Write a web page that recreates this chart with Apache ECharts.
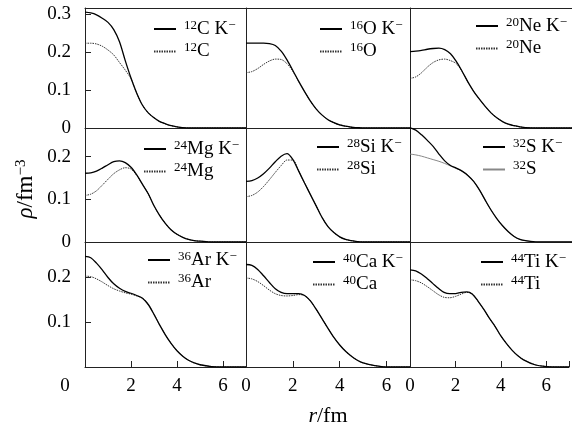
<!DOCTYPE html>
<html>
<head>
<meta charset="utf-8">
<script src="https://cdn.jsdelivr.net/npm/echarts@6/dist/echarts.min.js"></script>
<style>
html, body { margin: 0; padding: 0; background: #fff; }
#main { width: 572px; height: 428px; }
</style>
</head>
<body>
<div id="main"></div>
<script>
// r (fm) sampling points
const rValues = [0, 0.25, 0.5, 0.75, 1, 1.25, 1.5, 1.75, 2, 2.25, 2.5, 2.75, 3, 3.25, 3.5, 3.75, 4, 4.25, 4.5, 4.75, 5, 5.5, 6, 6.5, 7];

const nuclei = ['12C', '16O', '20Ne', '24Mg', '28Si', '32S', '36Ar', '40Ca', '44Ti'];

// density with K- (solid) and without (dotted), rho in fm^-3
const c12K = [0.306, 0.304, 0.299, 0.290, 0.279, 0.260, 0.228, 0.178, 0.132, 0.092, 0.060, 0.040, 0.027, 0.017, 0.011, 0.006, 0.003, 0.001, 0, 0, 0, 0, 0, 0, 0];
const c12 = [0.224, 0.224, 0.222, 0.216, 0.206, 0.193, 0.173, 0.153, 0.130, 0.092, 0.060, 0.040, 0.027, 0.017, 0.011, 0.006, 0.003, 0.001, 0, 0, 0, 0, 0, 0, 0];
const o16K = [0.224, 0.224, 0.224, 0.224, 0.223, 0.218, 0.203, 0.180, 0.152, 0.123, 0.096, 0.071, 0.050, 0.034, 0.022, 0.014, 0.008, 0.005, 0.002, 0.001, 0, 0, 0, 0, 0];
const o16 = [0.146, 0.149, 0.157, 0.168, 0.177, 0.182, 0.181, 0.170, 0.150, 0.123, 0.096, 0.071, 0.050, 0.034, 0.022, 0.014, 0.008, 0.005, 0.002, 0.001, 0, 0, 0, 0, 0];
const ne20K = [0.202, 0.203, 0.205, 0.208, 0.210, 0.211, 0.207, 0.196, 0.176, 0.150, 0.122, 0.097, 0.076, 0.057, 0.040, 0.027, 0.017, 0.010, 0.006, 0.003, 0.001, 0, 0, 0, 0];
const ne20 = [0.131, 0.135, 0.146, 0.161, 0.173, 0.180, 0.182, 0.178, 0.170, 0.150, 0.122, 0.097, 0.076, 0.057, 0.040, 0.027, 0.017, 0.010, 0.006, 0.003, 0.001, 0, 0, 0, 0];
const mg24K = [0.161, 0.162, 0.166, 0.173, 0.181, 0.188, 0.190, 0.186, 0.175, 0.157, 0.135, 0.113, 0.085, 0.062, 0.043, 0.028, 0.018, 0.011, 0.006, 0.003, 0.002, 0, 0, 0, 0];
const mg24 = [0.109, 0.112, 0.120, 0.133, 0.147, 0.160, 0.169, 0.174, 0.171, 0.156, 0.135, 0.113, 0.085, 0.062, 0.043, 0.028, 0.018, 0.011, 0.006, 0.003, 0.002, 0, 0, 0, 0];
const si28K = [0.142, 0.144, 0.150, 0.160, 0.173, 0.188, 0.201, 0.207, 0.193, 0.166, 0.138, 0.111, 0.084, 0.057, 0.036, 0.022, 0.012, 0.006, 0.003, 0.001, 0, 0, 0, 0, 0];
const si28 = [0.106, 0.109, 0.117, 0.130, 0.146, 0.163, 0.179, 0.192, 0.192, 0.166, 0.138, 0.111, 0.084, 0.057, 0.036, 0.022, 0.012, 0.006, 0.003, 0.001, 0, 0, 0, 0, 0];
const s32K = [0.268, 0.262, 0.251, 0.238, 0.224, 0.206, 0.190, 0.179, 0.173, 0.166, 0.156, 0.142, 0.122, 0.098, 0.075, 0.055, 0.038, 0.024, 0.013, 0.006, 0.003, 0, 0, 0, 0];
const s32 = [0.206, 0.204, 0.201, 0.197, 0.193, 0.189, 0.184, 0.178, 0.172, 0.166, 0.156, 0.142, 0.122, 0.098, 0.075, 0.055, 0.038, 0.024, 0.013, 0.006, 0.003, 0, 0, 0, 0];
const ar36K = [0.246, 0.243, 0.231, 0.216, 0.199, 0.185, 0.175, 0.168, 0.164, 0.159, 0.153, 0.139, 0.117, 0.093, 0.071, 0.052, 0.036, 0.024, 0.015, 0.009, 0.005, 0.001, 0, 0, 0];
const ar36 = [0.202, 0.201, 0.196, 0.189, 0.181, 0.174, 0.169, 0.165, 0.162, 0.158, 0.153, 0.139, 0.117, 0.093, 0.071, 0.052, 0.036, 0.024, 0.015, 0.009, 0.005, 0.001, 0, 0, 0];
const ca40K = [0.228, 0.226, 0.217, 0.203, 0.188, 0.174, 0.166, 0.163, 0.163, 0.163, 0.159, 0.147, 0.128, 0.107, 0.086, 0.066, 0.049, 0.035, 0.024, 0.015, 0.009, 0.003, 0, 0, 0];
const ca40 = [0.198, 0.196, 0.190, 0.181, 0.171, 0.163, 0.159, 0.158, 0.159, 0.161, 0.159, 0.147, 0.128, 0.107, 0.086, 0.066, 0.049, 0.035, 0.024, 0.015, 0.009, 0.003, 0, 0, 0];
const ti44K = [0.216, 0.214, 0.207, 0.197, 0.186, 0.175, 0.166, 0.163, 0.163, 0.166, 0.167, 0.162, 0.146, 0.128, 0.108, 0.090, 0.069, 0.052, 0.037, 0.025, 0.016, 0.005, 0.001, 0, 0];
const ti44 = [0.194, 0.192, 0.187, 0.179, 0.170, 0.161, 0.155, 0.154, 0.157, 0.162, 0.166, 0.162, 0.146, 0.128, 0.108, 0.090, 0.069, 0.052, 0.037, 0.025, 0.016, 0.005, 0.001, 0, 0];

const withK = [c12K, o16K, ne20K, mg24K, si28K, s32K, ar36K, ca40K, ti44K];
const withoutK = [c12, o16, ne20, mg24, si28, s32, ar36, ca40, ti44];

const xTicks = [0, 2, 4, 6];
const yMaxByRow = [0.317, 0.267, 0.278];

// layout
const FONT = 'Liberation Serif';
const cols = [[85, 161], [246, 164], [410, 162]];
const rows = [[8, 120], [128, 114], [242, 125]];
const legendPos = [[153, 19], [319, 19], [475, 16], [143, 139], [316, 137], [482, 137], [147, 250], [312, 252], [480, 252]];

const richText = {
  sup0: { fontFamily: FONT, fontSize: 13, verticalAlign: 'top', lineHeight: 13, padding: [0, 0, 0, 3], color: '#000' },
  sup: { fontFamily: FONT, fontSize: 13, verticalAlign: 'top', lineHeight: 13, color: '#000' },
  el: { fontFamily: FONT, fontSize: 19, lineHeight: 20, color: '#000' }
};

function richName(name) {
  const m = name.match(/^(\d+)([A-Za-z]+)( K-)?$/);
  return '{sup0|' + m[1] + '}{el|' + m[2] + (m[3] ? ' K' : '') + '}' + (m[3] ? '{sup|\u2212}' : '');
}

const pairs = arr => rValues.map((r, i) => [r, arr[i]]);

const grids = [], xAxes = [], yAxes = [], series = [], legends = [];

for (let i = 0; i < 9; i++) {
  const row = Math.floor(i / 3), col = i % 3;
  grids.push({ left: cols[col][0], top: rows[row][0], width: cols[col][1], height: rows[row][1] });
  const bottom = row === 2;
  xAxes.push({
    gridIndex: i, type: 'value', min: 0, max: 7, interval: 2,
    axisLine: { show: true, lineStyle: { color: '#222', width: 1 } },
    axisTick: { show: bottom, inside: true, length: 6, lineStyle: { color: '#222' } },
    axisLabel: {
      show: bottom, margin: 10, fontFamily: FONT, fontSize: 19, color: '#000',
      formatter: v => (xTicks.indexOf(v) < 0 ? '' : (v === 0 && col === 0 ? '{z|0}' : String(v))),
      rich: { z: { fontFamily: FONT, fontSize: 19, color: '#000', padding: [0, 40, 0, 0] } }
    },
    splitLine: { show: false },
    name: bottom && col === 1 ? '{i|r}{n|/fm}' : '',
    nameLocation: 'middle', nameGap: 38,
    nameTextStyle: { rich: {
      i: { fontFamily: FONT, fontSize: 22, fontStyle: 'italic', color: '#000' },
      n: { fontFamily: FONT, fontSize: 22, color: '#000' }
    } }
  });
  yAxes.push({
    gridIndex: i, type: 'value', min: 0, max: yMaxByRow[row], interval: 0.1,
    axisLine: { show: true, lineStyle: { color: '#222', width: 1 } },
    axisTick: { show: col === 0, inside: true, length: 6, lineStyle: { color: '#222' } },
    axisLabel: {
      show: col === 0, margin: 14, fontFamily: FONT, fontSize: 19, color: '#000',
      showMaxLabel: false,
      formatter: v => {
        const k = Math.round(v * 10);
        if (Math.abs(v * 10 - k) > 1e-6) return '';
        if (k === 0) return row === 2 ? '' : '0';
        return (k / 10).toFixed(1);
      }
    },
    splitLine: { show: false },
    name: col === 0 && row === 1 ? '{i|\u03c1}{n|/fm}{s|\u22123}' : '',
    nameLocation: 'middle', nameRotate: 90, nameGap: 48,
    nameTextStyle: { padding: [0, 8, 0, 0], rich: {
      i: { fontFamily: FONT, fontSize: 23, fontStyle: 'italic', color: '#000' },
      n: { fontFamily: FONT, fontSize: 23, color: '#000' },
      s: { fontFamily: FONT, fontSize: 15, verticalAlign: 'top', lineHeight: 15, color: '#000' }
    } }
  });

  const kName = nuclei[i] + ' K-';
  const plainName = nuclei[i];
  const plainStyle = nuclei[i] === '32S'
    ? { color: '#888', width: 1, type: 'solid' }
    : { color: '#333', width: 1, type: [1.5, 1] };
  series.push({
    name: plainName, type: 'line', xAxisIndex: i, yAxisIndex: i,
    data: pairs(withoutK[i]), smooth: 0.3, symbol: 'none',
    lineStyle: plainStyle, itemStyle: { color: plainStyle.color }, silent: true
  });
  series.push({
    name: kName, type: 'line', xAxisIndex: i, yAxisIndex: i,
    data: pairs(withK[i]), smooth: 0.3, symbol: 'none',
    lineStyle: { color: '#000', width: 1.3 }, itemStyle: { color: '#000' }, silent: true
  });
  legends.push({
    data: [kName, plainName], orient: 'vertical',
    left: legendPos[i][0], top: legendPos[i][1],
    itemWidth: 22, itemHeight: 14, itemGap: 3, padding: 0,
    selectedMode: false,
    itemStyle: { opacity: 0 },
    formatter: richName,
    textStyle: { fontFamily: FONT, fontSize: 19, color: '#000', rich: richText }
  });
}

// top frame line for the first row
for (let c = 0; c < 3; c++) {
  xAxes.push({
    gridIndex: c, type: 'value', position: 'top', min: 0, max: 7,
    axisLine: { show: true, onZero: false, lineStyle: { color: '#222', width: 1 } },
    axisTick: { show: false }, axisLabel: { show: false }, splitLine: { show: false }
  });
}

const chart = echarts.init(document.getElementById('main'), null, { renderer: 'canvas' });
chart.setOption({
  backgroundColor: '#fff',
  animation: false,
  grid: grids,
  xAxis: xAxes,
  yAxis: yAxes,
  legend: legends,
  series: series
});
</script>
</body>
</html>
